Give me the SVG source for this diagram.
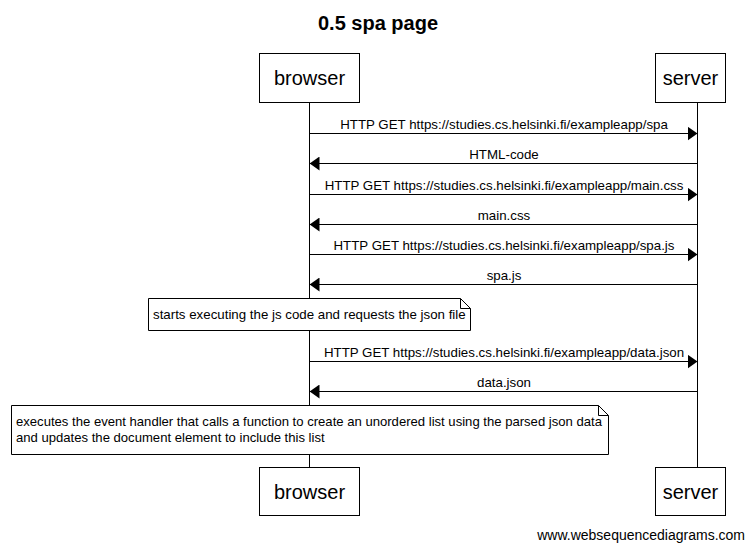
<svg xmlns="http://www.w3.org/2000/svg" width="755" height="550" viewBox="0 0 755 550">
<style>
.box{fill:#fff;stroke:#000;stroke-width:1}
.life{stroke:#000;stroke-width:1}
.msg{stroke:#000;stroke-width:1;fill:none}
.actor{font-family:"Liberation Sans",Arial,sans-serif;font-size:20px;text-anchor:middle}
.lbl{font-family:"Liberation Sans",Arial,sans-serif;font-size:13.3px;text-anchor:middle}
.note{font-family:"Liberation Sans",Arial,sans-serif;font-size:13.3px}
.note2{font-family:"Liberation Sans",Arial,sans-serif;font-size:13.1px}
</style>
<defs>
<marker id="ah" markerWidth="10" markerHeight="14" refX="10" refY="7" orient="auto" markerUnits="userSpaceOnUse">
<path d="M0,0 L10,7 L0,14 Z" fill="#000"/>
</marker>
</defs>
<rect width="755" height="550" fill="#fff"/>
<text x="378" y="30" font-family="Liberation Sans,Arial,sans-serif" font-size="20" font-weight="bold" text-anchor="middle">0.5 spa page</text>
<g id="lifelines">
<line class="life" x1="309.5" y1="102" x2="309.5" y2="467"/>
<line class="life" x1="697.5" y1="102" x2="697.5" y2="467"/>
</g>
<g id="browser">
<rect class="box" x="259.5" y="53.5" width="100" height="49"/>
<text class="actor" x="309.5" y="85">browser</text>
<rect class="box" x="259.5" y="467.5" width="100" height="48"/>
<text class="actor" x="309.5" y="499">browser</text>
</g>
<g id="server">
<rect class="box" x="655.5" y="53.5" width="70" height="49"/>
<text class="actor" x="690.5" y="85">server</text>
<rect class="box" x="655.5" y="467.5" width="70" height="48"/>
<text class="actor" x="690.5" y="499">server</text>
</g>
<g id="connectors">
<line class="msg" x1="309.5" y1="133.5" x2="697.5" y2="133.5" marker-end="url(#ah)"/>
<text class="lbl" x="504" y="129">HTTP GET https://studies.cs.helsinki.fi/exampleapp/spa</text>
<line class="msg" x1="697.5" y1="163.5" x2="309.5" y2="163.5" marker-end="url(#ah)"/>
<text class="lbl" x="504" y="159">HTML-code</text>
<line class="msg" x1="309.5" y1="194.5" x2="697.5" y2="194.5" marker-end="url(#ah)"/>
<text class="lbl" x="504" y="190">HTTP GET https://studies.cs.helsinki.fi/exampleapp/main.css</text>
<line class="msg" x1="697.5" y1="224.5" x2="309.5" y2="224.5" marker-end="url(#ah)"/>
<text class="lbl" x="504" y="220">main.css</text>
<line class="msg" x1="309.5" y1="254.5" x2="697.5" y2="254.5" marker-end="url(#ah)"/>
<text class="lbl" x="504" y="250">HTTP GET https://studies.cs.helsinki.fi/exampleapp/spa.js</text>
<line class="msg" x1="697.5" y1="284.5" x2="309.5" y2="284.5" marker-end="url(#ah)"/>
<text class="lbl" x="504" y="280">spa.js</text>
<line class="msg" x1="309.5" y1="361.5" x2="697.5" y2="361.5" marker-end="url(#ah)"/>
<text class="lbl" x="504" y="357">HTTP GET https://studies.cs.helsinki.fi/exampleapp/data.json</text>
<line class="msg" x1="697.5" y1="391.5" x2="309.5" y2="391.5" marker-end="url(#ah)"/>
<text class="lbl" x="504" y="387">data.json</text>
</g>
<g id="note1">
<path class="box" d="M148.5,298.5 H460.5 L470.5,308.5 V330.5 H148.5 Z"/>
<path class="msg" d="M460.5,298.5 V308.5 H470.5"/>
<text class="note" x="153" y="319">starts executing the js code and requests the json file</text>
</g>
<g id="note2">
<path class="box" d="M11.5,405.5 H598.5 L608.5,415.5 V454.5 H11.5 Z"/>
<path class="msg" d="M598.5,405.5 V415.5 H608.5"/>
<text class="note2" x="16" y="426">executes the event handler that calls a function to create an unordered list using the parsed json data</text>
<text class="note2" x="16" y="442">and updates the document element to include this list</text>
</g>
<text x="745" y="540" font-family="Liberation Sans,Arial,sans-serif" font-size="14" text-anchor="end">www.websequencediagrams.com</text>
</svg>
